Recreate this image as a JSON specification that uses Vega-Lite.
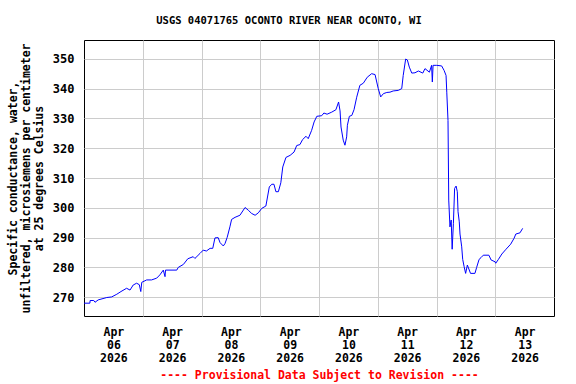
{
  "$schema": "https://vega.github.io/schema/vega-lite/v6.json",
  "width": 470,
  "height": 276,
  "autosize": "none",
  "padding": {"left": 84, "top": 40, "right": 22, "bottom": 68},
  "background": "white",
  "title": {"text": "USGS 04071765 OCONTO RIVER NEAR OCONTO, WI", "font": "DejaVu Sans Mono", "fontSize": 10.5, "fontWeight": "bold", "color": "black", "anchor": "middle", "dx": -30, "offset": 14},
  "config": {"view": {"stroke": "black", "strokeWidth": 1}},
  "data": {"values": [
    {"hour": 0, "sc": 268.0}, {"hour": 2.4, "sc": 268.0}, {"hour": 2.5, "sc": 268.9}, {"hour": 4.0, "sc": 268.9}, {"hour": 4.5, "sc": 268.3}, {"hour": 5.8, "sc": 269.1},
    {"hour": 9.3, "sc": 269.9}, {"hour": 11.3, "sc": 270.1}, {"hour": 13.4, "sc": 271.0}, {"hour": 15.1, "sc": 271.9},
    {"hour": 17.4, "sc": 273.0}, {"hour": 18.8, "sc": 272.4}, {"hour": 20.1, "sc": 274.1}, {"hour": 21.5, "sc": 274.7},
    {"hour": 22.6, "sc": 274.2}, {"hour": 23.2, "sc": 271.9}, {"hour": 23.6, "sc": 275.0}, {"hour": 25.6, "sc": 275.8},
    {"hour": 27.6, "sc": 275.8}, {"hour": 29.7, "sc": 276.4}, {"hour": 31.0, "sc": 277.5}, {"hour": 32.4, "sc": 279.1},
    {"hour": 33.1, "sc": 276.9}, {"hour": 33.3, "sc": 279.1}, {"hour": 37.9, "sc": 279.1}, {"hour": 38.5, "sc": 280.0},
    {"hour": 40.6, "sc": 281.0}, {"hour": 42.4, "sc": 282.9}, {"hour": 44.6, "sc": 283.6}, {"hour": 45.3, "sc": 283.0},
    {"hour": 47.4, "sc": 284.7}, {"hour": 48.7, "sc": 285.8}, {"hour": 50.0, "sc": 285.5}, {"hour": 51.5, "sc": 286.4},
    {"hour": 52.6, "sc": 286.4}, {"hour": 53.5, "sc": 289.9}, {"hour": 54.8, "sc": 290.0}, {"hour": 55.6, "sc": 288.3},
    {"hour": 56.9, "sc": 287.2}, {"hour": 57.6, "sc": 288.0}, {"hour": 58.5, "sc": 290.1}, {"hour": 59.6, "sc": 293.6},
    {"hour": 60.3, "sc": 296.1}, {"hour": 61.7, "sc": 296.8}, {"hour": 63.7, "sc": 297.5}, {"hour": 65.8, "sc": 300.1},
    {"hour": 67.1, "sc": 299.2}, {"hour": 68.5, "sc": 298.1}, {"hour": 69.9, "sc": 297.5}, {"hour": 71.2, "sc": 298.3},
    {"hour": 72.6, "sc": 299.8}, {"hour": 74.3, "sc": 300.6}, {"hour": 75.7, "sc": 307.0}, {"hour": 76.7, "sc": 307.9},
    {"hour": 77.6, "sc": 307.9}, {"hour": 78.4, "sc": 305.4}, {"hour": 79.4, "sc": 305.4}, {"hour": 80.4, "sc": 308.4},
    {"hour": 81.2, "sc": 313.7}, {"hour": 82.5, "sc": 316.9}, {"hour": 84.2, "sc": 317.6}, {"hour": 85.8, "sc": 318.7},
    {"hour": 86.9, "sc": 320.9}, {"hour": 88.2, "sc": 321.2}, {"hour": 89.3, "sc": 322.9}, {"hour": 90.7, "sc": 324.0},
    {"hour": 91.6, "sc": 323.2}, {"hour": 93.0, "sc": 326.0}, {"hour": 94.0, "sc": 328.8}, {"hour": 95.1, "sc": 330.7},
    {"hour": 97.1, "sc": 330.9}, {"hour": 98.0, "sc": 331.8}, {"hour": 99.3, "sc": 331.4}, {"hour": 101.2, "sc": 332.1},
    {"hour": 102.9, "sc": 332.9}, {"hour": 104.0, "sc": 335.5}, {"hour": 104.6, "sc": 332.5}, {"hour": 105.0, "sc": 327.1},
    {"hour": 105.9, "sc": 322.7}, {"hour": 106.6, "sc": 321.0}, {"hour": 107.3, "sc": 323.8}, {"hour": 107.6, "sc": 327.7},
    {"hour": 108.4, "sc": 330.7}, {"hour": 109.4, "sc": 331.0}, {"hour": 110.3, "sc": 332.9}, {"hour": 111.4, "sc": 337.1},
    {"hour": 112.7, "sc": 341.1}, {"hour": 114.1, "sc": 341.8}, {"hour": 115.7, "sc": 343.8}, {"hour": 117.5, "sc": 345.0},
    {"hour": 118.9, "sc": 344.7}, {"hour": 120.2, "sc": 340.0}, {"hour": 121.2, "sc": 337.2}, {"hour": 122.3, "sc": 338.3},
    {"hour": 123.7, "sc": 338.7}, {"hour": 125.0, "sc": 338.8}, {"hour": 126.3, "sc": 339.2}, {"hour": 128.4, "sc": 339.4},
    {"hour": 129.8, "sc": 340.0}, {"hour": 130.4, "sc": 344.4}, {"hour": 131.4, "sc": 349.9}, {"hour": 132.1, "sc": 349.6},
    {"hour": 132.9, "sc": 347.2}, {"hour": 133.9, "sc": 345.2}, {"hour": 135.2, "sc": 345.3}, {"hour": 136.6, "sc": 345.9},
    {"hour": 138.4, "sc": 345.2}, {"hour": 139.3, "sc": 346.7}, {"hour": 141.1, "sc": 345.5}, {"hour": 142.0, "sc": 347.8},
    {"hour": 142.3, "sc": 342.2}, {"hour": 142.6, "sc": 347.8}, {"hour": 144.1, "sc": 347.8}, {"hour": 146.1, "sc": 347.6},
    {"hour": 147.1, "sc": 346.1}, {"hour": 147.9, "sc": 344.4}, {"hour": 148.2, "sc": 338.8}, {"hour": 148.7, "sc": 329.3},
    {"hour": 149.0, "sc": 302.6}, {"hour": 149.5, "sc": 293.6}, {"hour": 150.0, "sc": 295.9}, {"hour": 150.4, "sc": 286.1},
    {"hour": 150.9, "sc": 294.8}, {"hour": 151.4, "sc": 306.5}, {"hour": 152.0, "sc": 307.3}, {"hour": 152.5, "sc": 305.4},
    {"hour": 152.8, "sc": 298.7}, {"hour": 153.3, "sc": 295.3}, {"hour": 153.6, "sc": 291.2}, {"hour": 154.3, "sc": 286.9},
    {"hour": 154.7, "sc": 282.7}, {"hour": 155.3, "sc": 280.2}, {"hour": 155.9, "sc": 278.0}, {"hour": 156.6, "sc": 280.8},
    {"hour": 157.9, "sc": 278.0}, {"hour": 159.7, "sc": 278.0}, {"hour": 160.4, "sc": 280.0}, {"hour": 161.4, "sc": 282.7},
    {"hour": 162.2, "sc": 283.3}, {"hour": 163.1, "sc": 284.1}, {"hour": 165.4, "sc": 284.1}, {"hour": 166.3, "sc": 282.5},
    {"hour": 167.9, "sc": 281.9}, {"hour": 168.2, "sc": 281.4}, {"hour": 169.3, "sc": 282.7}, {"hour": 170.7, "sc": 284.5},
    {"hour": 172.4, "sc": 286.1}, {"hour": 174.3, "sc": 287.8}, {"hour": 175.7, "sc": 289.8}, {"hour": 176.4, "sc": 291.2},
    {"hour": 178.1, "sc": 291.6}, {"hour": 179.2, "sc": 293.1}
  ]},
  "mark": {"type": "line", "color": "#0000ff", "strokeWidth": 1, "interpolate": "linear"},
  "encoding": {
    "x": {
      "field": "hour", "type": "quantitative",
      "scale": {"domain": [0, 192], "nice": false, "zero": false},
      "axis": {
        "values": [12, 24, 36, 48, 60, 72, 84, 96, 108, 120, 132, 144, 156, 168, 180],
        "grid": true, "gridColor": "#cccccc", "gridWidth": 1,
        "gridOpacity": {"condition": {"test": "datum.value % 24 == 0", "value": 1}, "value": 0},
        "ticks": false, "domain": false,
        "labelExpr": "datum.value % 24 == 12 ? ['Apr', (6 + floor(datum.value / 24) < 10 ? '0' : '') + (6 + floor(datum.value / 24)), '2026'] : ''",
        "labelFont": "DejaVu Sans Mono", "labelFontSize": 11.5, "labelFontWeight": "bold", "labelColor": "black",
        "labelLineHeight": 13, "labelPadding": 10, "labelFlush": false, "labelOverlap": false,
        "title": "---- Provisional Data Subject to Revision ----",
        "titleColor": "red", "titleFont": "DejaVu Sans Mono", "titleFontSize": 11.5, "titleFontWeight": "bold", "titlePadding": 6
      }
    },
    "y": {
      "field": "sc", "type": "quantitative",
      "scale": {"domain": [263.7, 356.3], "nice": false, "zero": false},
      "axis": {
        "values": [270, 280, 290, 300, 310, 320, 330, 340, 350],
        "grid": true, "gridColor": "#cccccc", "gridWidth": 1,
        "ticks": false, "domain": false,
        "labelFont": "DejaVu Sans Mono", "labelFontSize": 12, "labelFontWeight": "bold", "labelColor": "black", "labelPadding": 10,
        "title": ["Specific conductance, water,", "unfiltered, microsiemens per centimeter", "at 25 degrees Celsius"],
        "titleFont": "DejaVu Sans Mono", "titleFontSize": 11.5, "titleFontWeight": "bold", "titleColor": "black", "titleLineHeight": 13, "titlePadding": 8
      }
    }
  }
}
